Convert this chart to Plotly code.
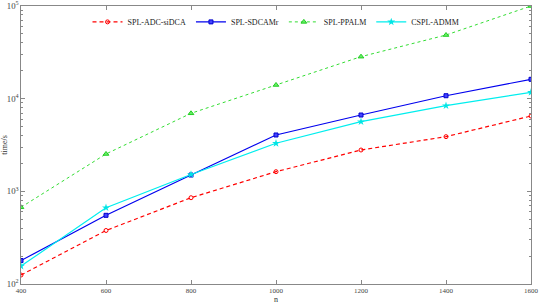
import plotly.graph_objects as go

n = [400, 600, 800, 1000, 1200, 1400, 1600]
adc_sidca = [125, 378, 853, 1629, 2793, 3890, 6500]
sdcamr = [179, 551, 1500, 4055, 6660, 10760, 16180]
ppalm = [673, 2530, 6950, 14050, 28400, 48600, 100000]
cspl_admm = [156, 666, 1520, 3300, 5640, 8400, 11720]

fig = go.Figure()
fig.add_trace(go.Scatter(x=n, y=adc_sidca, name="SPL-ADC-siDCA", mode="lines+markers",
                         line=dict(color="#ff0000", width=1.2, dash="4px,3px"),
                         marker=dict(symbol="circle-open", size=4, color="#ff0000", line=dict(width=1))))
fig.add_trace(go.Scatter(x=n, y=sdcamr, name="SPL-SDCAMr", mode="lines+markers",
                         line=dict(color="#0000ee", width=1.2),
                         marker=dict(symbol="square", size=4, color="#4444ff", line=dict(width=1, color="#0000cc"))))
fig.add_trace(go.Scatter(x=n, y=ppalm, name="SPL-PPALM", mode="lines+markers",
                         line=dict(color="#33dd33", width=1, dash="dot"),
                         marker=dict(symbol="triangle-up", size=5, color="#66ee66", line=dict(width=1, color="#22cc22"))))
fig.add_trace(go.Scatter(x=n, y=cspl_admm, name="CSPL-ADMM", mode="lines+markers",
                         line=dict(color="#00eeee", width=1.2),
                         marker=dict(symbol="star", size=6, color="#00e5e5")))

axis_common = dict(showgrid=False, zeroline=False, showline=True, linecolor="#888888", linewidth=1,
                   mirror="ticks", ticks="inside", ticklen=4, tickcolor="#888888", automargin=False,
                   tickfont=dict(family="Liberation Serif", size=7, color="#444444"))
fig.update_xaxes(range=[400, 1600], tickvals=n, title=dict(text="n", standoff=3,
                 font=dict(family="Liberation Serif", size=8, color="#333333")), **axis_common)
fig.update_yaxes(type="log", range=[2, 5], dtick=1, exponentformat="power",
                 minor=dict(ticks="inside", ticklen=2, tickcolor="#888888", showgrid=False),
                 title=dict(text="time/s", standoff=2,
                            font=dict(family="Liberation Serif", size=8, color="#333333")),
                 **axis_common)
fig.update_layout(width=540, height=304, margin=dict(l=21, r=9, t=6, b=20),
                  plot_bgcolor="white", paper_bgcolor="white",
                  font=dict(family="Liberation Serif", size=8, color="#333333"),
                  legend=dict(orientation="h", x=0.5, y=0.995, xanchor="center", yanchor="top",
                              bgcolor="rgba(0,0,0,0)", font=dict(size=8, color="#222222"),
                              entrywidth=0, tracegroupgap=0))
fig.write_html("out.html", config={"displayModeBar": False},
               post_script="document.body.style.margin='0';")
